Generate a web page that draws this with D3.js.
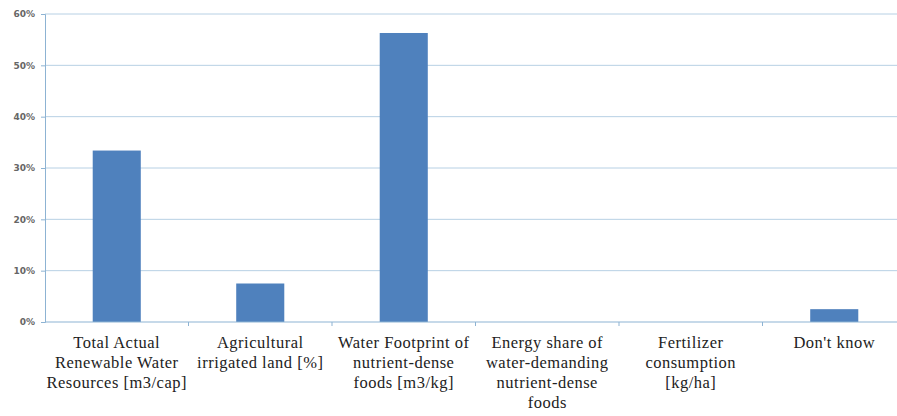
<!DOCTYPE html>
<html>
<head>
<meta charset="utf-8">
<script src="https://cdn.jsdelivr.net/npm/d3@7"></script>
<style>
  body { margin: 0; background: #fff; }
  .y.axis text { font-family: "DejaVu Sans", sans-serif; font-size: 9px; font-weight: bold; fill: #666; }
</style>
</head>
<body>
<div id="chart"></div>
<script>
// categories, wrapped as they appear under the axis
const categories = [
    ["Total Actual", "Renewable Water", "Resources [m3/cap]"],
    ["Agricultural", "irrigated land [%]"],
    ["Water Footprint of", "nutrient-dense", "foods [m3/kg]"],
    ["Energy share of", "water-demanding", "nutrient-dense", "foods"],
    ["Fertilizer", "consumption", "[kg/ha]"],
    ["Don't know"]
];
const values = [0.334, 0.075, 0.563, 0, 0, 0.025];
const yTicks = [0, 0.1, 0.2, 0.3, 0.4, 0.5, 0.6];

const width = 897, height = 416;
const margin = {top: 14, right: -9, bottom: 94, left: 45};
const innerW = width - margin.left - margin.right;
const innerH = height - margin.top - margin.bottom;

const svg = d3.select('#chart').append('svg')
    .attr('width', width)
    .attr('height', height);
const chart = svg.append('g')
    .attr('transform', `translate(${margin.left},${margin.top})`);

const xScale = d3.scaleBand()
    .domain(d3.range(categories.length))
    .range([0, innerW])
    .paddingInner(0.665)
    .paddingOuter(0.3325);
const xOuter = d3.scaleBand()
    .domain(d3.range(categories.length))
    .range([0, innerW]);
const yScale = d3.scaleLinear()
    .domain([0, 0.6])
    .range([innerH, 0]);

// gridlines
chart.append('g')
    .selectAll('line')
    .data(yTicks.slice(1))
    .join('line')
    .attr('x1', 0).attr('x2', innerW)
    .attr('y1', d => yScale(d)).attr('y2', d => yScale(d))
    .attr('stroke', '#b7d0e4')
    .attr('stroke-width', 1);

// bars
chart.selectAll('.bar')
    .data(values)
    .join('rect')
    .attr('class', 'bar')
    .attr('x', (d, i) => xScale(i))
    .attr('y', d => yScale(d))
    .attr('width', xScale.bandwidth())
    .attr('height', d => innerH - yScale(d))
    .attr('fill', '#4f81bd');

// y axis
const yAxis = d3.axisLeft(yScale)
    .tickValues(yTicks)
    .tickFormat(d3.format('.0%'))
    .tickSize(4)
    .tickPadding(6);
const yg = chart.append('g').attr('class', 'y axis').call(yAxis);
yg.select('.domain').attr('stroke', '#8db3d3');
yg.selectAll('.tick line').attr('stroke', '#8db3d3');

// x axis line + tick marks between categories
chart.append('line')
    .attr('x1', 0).attr('x2', innerW)
    .attr('y1', innerH).attr('y2', innerH)
    .attr('stroke', '#8db3d3');
chart.append('g')
    .selectAll('line')
    .data(d3.range(1, categories.length))
    .join('line')
    .attr('x1', d => xOuter(d)).attr('x2', d => xOuter(d))
    .attr('y1', innerH).attr('y2', innerH + 4)
    .attr('stroke', '#8db3d3');

// category labels
const labels = chart.append('g')
    .attr('font-family', "'Liberation Serif', 'Times New Roman', Times, 'DejaVu Serif', serif")
    .attr('font-size', 16.5)
    .attr('letter-spacing', 0.5)
    .attr('fill', '#222')
    .selectAll('text')
    .data(categories)
    .join('text')
    .attr('text-anchor', 'middle')
    .attr('transform', (d, i) => `translate(${xOuter(i) + xOuter.bandwidth() / 2},${innerH + 26})`);
labels.selectAll('tspan')
    .data(d => d)
    .join('tspan')
    .attr('x', 0)
    .attr('y', (d, i) => i * 20)
    .text(d => d);
</script>
</body>
</html>
